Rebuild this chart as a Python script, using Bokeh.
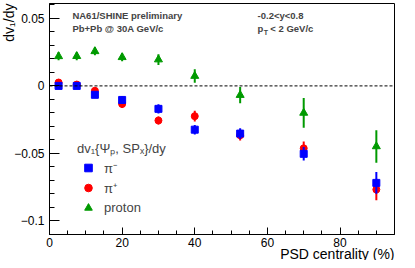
import math
from bokeh.plotting import figure
from bokeh.models import (Range1d, Label, Span, Legend, LegendItem, FixedTicker,
                          CustomJSTickFormatter, Title)
from bokeh.embed import file_html
from bokeh.resources import INLINE

# ---- data ----
centrality = [2.5, 7.5, 12.5, 20, 30, 40, 52.5, 70, 90]
pim = [0.0, 0.0, -0.0066, -0.0104, -0.017, -0.0324, -0.0353, -0.0503, -0.0718]
pim_err = [0.002, 0.002, 0.002, 0.003, 0.0035, 0.0035, 0.004, 0.005, 0.008]
pip = [0.0025, 0.001, -0.0036, -0.0134, -0.0256, -0.0224, -0.0365, -0.0462, -0.0767]
pip_err = [0.002, 0.002, 0.002, 0.003, 0.003, 0.004, 0.004, 0.005, 0.008]
prot = [0.0219, 0.022, 0.0256, 0.0212, 0.0195, 0.0073, -0.0068, -0.020, -0.0448]
prot_err = [0.003, 0.003, 0.003, 0.003, 0.004, 0.005, 0.006, 0.011, 0.012]

y_major = [-0.1, -0.05, 0, 0.05]
y_minor = [round(-0.11 + 0.01 * i, 2) for i in range(18)]
x_major = [0, 20, 40, 60, 80]
x_minor = list(range(0, 96, 5))

FONT = "Liberation Sans"
BLUE = "#0000ff"
RED = "#ff0000"
GREEN = "#009a00"

p = figure(width=407, height=260, output_backend="svg", toolbar_location=None,
           x_range=Range1d(0, 95), y_range=Range1d(-0.110, 0.061),
           min_border_left=49, min_border_right=13, min_border_top=3,
           min_border_bottom=26)
p.grid.visible = False
p.outline_line_color = "black"
p.outline_line_width = 1
p.background_fill_color = "white"
p.border_fill_color = "white"

for ax in (p.xaxis[0], p.yaxis[0]):
    ax.major_tick_out = 0
    ax.minor_tick_out = 0
    ax.axis_line_color = "black"
    ax.major_tick_line_color = "black"
    ax.minor_tick_line_color = "black"
    ax.major_label_text_font = FONT
    ax.major_label_text_font_size = "12px"
    ax.major_label_text_color = "black"

p.xaxis.ticker = FixedTicker(ticks=x_major, minor_ticks=x_minor)
p.xaxis.major_tick_in = 7
p.xaxis.minor_tick_in = 4
p.xaxis.major_label_standoff = 3

p.yaxis.ticker = FixedTicker(ticks=y_major, minor_ticks=y_minor)
p.yaxis.major_tick_in = 10
p.yaxis.minor_tick_in = 5
p.yaxis.major_label_standoff = 5
p.yaxis.formatter = CustomJSTickFormatter(code="""
    if (Math.abs(tick) < 1e-9) return "0";
    let s = String(Math.round(tick*1000)/1000);
    return s.replace("-", "\u2212");
""")

# axis titles, right/top aligned as in ROOT
p.add_layout(Title(text="PSD centrality (%)", align="right", standoff=-12,
                   text_font=FONT, text_font_size="14px", text_font_style="normal",
                   text_color="black"), "below")
p.add_layout(Title(text="dv₁/dy", align="right", standoff=-10,
                   text_font=FONT, text_font_size="14px", text_font_style="normal",
                   text_color="black"), "left")

# zero line
p.add_layout(Span(location=0, dimension="width", line_color="black",
                  line_dash="3 2", line_width=1))

# error bars + markers
def lo_hi(v, e):
    return [a - b for a, b in zip(v, e)], [a + b for a, b in zip(v, e)]

lo, hi = lo_hi(pip, pip_err)
p.segment(centrality, lo, centrality, hi, line_color=RED, line_width=2)
r_pip = p.scatter(centrality, pip, marker="circle", size=7, color=RED)

lo, hi = lo_hi(pim, pim_err)
p.segment(centrality, lo, centrality, hi, line_color=BLUE, line_width=2)
r_pim = p.scatter(centrality, pim, marker="square", size=7, color=BLUE)

lo, hi = lo_hi(prot, prot_err)
p.segment(centrality, lo, centrality, hi, line_color=GREEN, line_width=2)
r_prot = p.scatter(centrality, prot, marker="triangle", size=8, color=GREEN)

legend = Legend(items=[LegendItem(label="π⁻", renderers=[r_pim]),
                       LegendItem(label="π⁺", renderers=[r_pip]),
                       LegendItem(label="proton", renderers=[r_prot])],
                location=(28, 17), title="dv₁{Ψₚ, SPₓ}/dy",
                title_text_font=FONT, title_text_font_size="13px",
                title_text_font_style="normal", title_standoff=1,
                label_text_font=FONT, label_text_font_size="13px",
                glyph_width=22, glyph_height=19, label_height=19,
                label_standoff=5, spacing=1, padding=0, margin=0,
                border_line_color=None, background_fill_alpha=0)
p.add_layout(legend)

# header texts
def txt(x, y, s, size="9.5px"):
    p.add_layout(Label(x=x, y=y, text=s, text_align="left", text_baseline="alphabetic",
                       text_font=FONT, text_font_size=size,
                       text_font_style="bold"))

txt(6.3, 0.0521, "NA61/SHINE preliminary")
txt(6.3, 0.0423, "Pb+Pb @ 30A GeV/c")
txt(57.3, 0.0521, "-0.2<y<0.8")
txt(57.3, 0.0423, "p")
txt(59.0, 0.0394, "T", "7px")
txt(60.8, 0.0423, "< 2 GeV/c")

open("out.html", "w").write(file_html(p, INLINE))
